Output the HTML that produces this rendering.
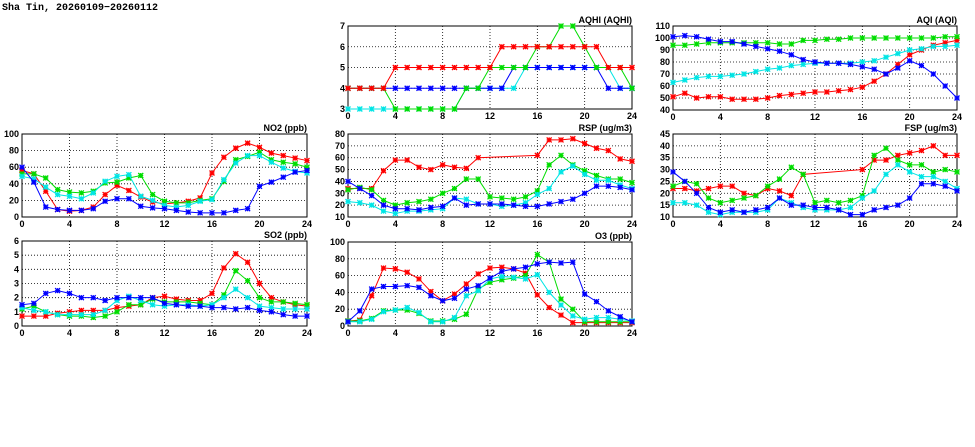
<!DOCTYPE html>
<html><head><meta charset="utf-8">
<style>
html,body{margin:0;padding:0;background:#fff;width:975px;height:447px;overflow:hidden}
svg{display:block}
text{font-family:"Liberation Sans",sans-serif;font-weight:bold;font-size:9px;fill:#000}
</style></head>
<body>
<svg id="c" width="975" height="447">
<text x="2" y="10" style="font-family:'Liberation Mono',monospace;font-size:10px">Sha Tin, 20260109−20260112</text>
</svg>
<script>
const hours=[0,1,2,3,4,5,6,7,8,9,10,11,12,13,14,15,16,17,18,19,20,21,22,23,24];
const xTicks=[0,4,8,12,16,20,24];
const seriesColors=["#ff0000","#00dd00","#00e5e5","#0000ff"];

const aqhiRed=[4,4,4,4,5,5,5,5,5,5,5,5,5,6,6,6,6,6,6,6,6,6,5,5,5];
const aqhiGreen=[4,4,4,4,3,3,3,3,3,3,4,4,5,5,5,5,6,6,7,7,6,5,5,5,4];
const aqhiCyan=[3,3,3,3,3,3,3,3,3,3,4,4,4,4,4,5,5,5,5,5,5,5,5,4,4];
const aqhiBlue=[4,4,4,4,4,4,4,4,4,4,4,4,4,4,5,5,5,5,5,5,5,5,4,4,4];
const aqhiTicks=[3,4,5,6,7];

const aqiRed=[51,54,50,51,51,49,49,49,50,52,53,54,55,55,56,57,59,64,70,78,86,90,94,96,98];
const aqiGreen=[94,94,95,96,96,96,96,96,96,95,95,98,98,99,99,100,100,100,100,100,100,100,100,101,101];
const aqiCyan=[63,65,67,68,68,69,70,72,74,75,77,78,79,79,79,79,80,81,84,87,90,91,93,93,94];
const aqiBlue=[101,102,101,99,97,97,95,93,91,89,86,82,80,79,79,78,76,74,70,75,81,77,70,60,50];
const aqiTicks=[40,50,60,70,80,90,100,110];

const no2Red=[56,52,31,9,7,8,12,27,38,32,24,18,16,17,19,23,53,72,83,89,84,77,74,71,68];
const no2Green=[52,52,47,33,30,29,31,41,42,47,50,27,19,17,17,20,22,43,69,73,78,69,66,64,60];
const no2Cyan=[49,46,36,27,25,22,29,43,49,51,25,20,14,12,14,19,21,45,65,74,74,66,59,55,53];
const no2Blue=[60,42,12,9,8,8,10,19,22,22,13,11,10,8,6,5,5,5,8,10,37,42,48,54,56];
const no2Ticks=[0,20,40,60,80,100];

const rspRed=[34,34,34,49,58,58,52,50,54,52,51,60,null,null,null,null,62,75,75,76,72,68,66,59,57];
const rspGreen=[33,35,33,24,20,22,23,25,30,34,42,42,27,26,25,27,32,54,62,54,49,45,42,42,39];
const rspCyan=[23,22,20,15,13,15,15,16,17,26,25,21,21,19,20,22,29,34,48,53,46,41,41,37,34];
const rspBlue=[40,34,28,20,17,17,16,18,19,26,20,21,21,21,20,19,19,21,23,25,30,36,36,35,33];
const rspTicks=[10,20,30,40,50,60,70,80];

const fspRed=[22,22,21,22,23,23,20,19,22,21,19,28,null,null,null,null,30,34,34,36,37,38,40,36,36];
const fspGreen=[23,25,24,18,16,17,18,19,23,26,31,28,16,17,16,17,19,36,39,34,32,32,29,30,29];
const fspCyan=[16,16,15,12,11,12,12,12,13,18,16,14,13,13,13,14,18,21,28,32,29,27,27,25,22];
const fspBlue=[29,25,20,14,12,13,12,13,14,18,15,15,14,14,13,11,11,13,14,15,18,24,24,23,21];
const fspTicks=[10,15,20,25,30,35,40,45];

const so2Red=[0.7,0.7,0.7,0.9,1.0,1.1,1.1,1.1,1.3,1.4,1.5,2.0,2.1,1.9,1.8,1.8,2.3,4.1,5.1,4.5,3.0,2.0,1.7,1.5,1.4];
const so2Green=[1.2,1.4,1.0,0.8,0.7,0.7,0.6,0.7,1.0,1.5,1.5,1.9,1.7,1.7,1.7,1.6,1.5,2.2,3.9,3.2,2.0,1.7,1.7,1.6,1.5];
const so2Cyan=[1.3,1.1,1.0,0.8,0.8,0.8,0.8,1.1,1.8,2.1,1.8,1.5,1.4,1.5,1.5,1.4,1.5,2.0,2.6,2.0,1.4,1.3,1.2,1.2,1.2];
const so2Blue=[1.5,1.6,2.3,2.5,2.3,2.0,2.0,1.8,2.0,2.0,2.0,2.0,1.6,1.5,1.4,1.4,1.3,1.3,1.2,1.3,1.1,1.0,0.8,0.7,0.7];
const so2Ticks=[0,1,2,3,4,5,6];

const o3Red=[6,7,36,69,68,64,56,41,30,38,50,62,69,70,68,63,37,22,13,4,4,4,4,4,4];
const o3Green=[6,6,9,18,19,19,15,6,6,8,14,44,52,55,57,60,85,76,32,20,5,5,5,5,5];
const o3Cyan=[5,5,8,17,19,22,16,5,5,10,36,42,56,59,58,56,61,40,25,12,8,10,10,8,6];
const o3Blue=[5,18,44,47,47,48,46,36,30,33,44,48,57,65,68,70,74,76,75,76,38,29,18,11,5];
const o3Ticks=[0,20,40,60,80,100];

const NS="http://www.w3.org/2000/svg";
const svg=document.getElementById("c");
function mk(tag,attrs,parent){const e=document.createElementNS(NS,tag);for(const k in attrs)e.setAttribute(k,attrs[k]);(parent||svg).appendChild(e);return e;}

function panel(key,title,box,ticks,series,order){
  const g=mk("g",{});
  
  
  const [L,T,R,B]=box;
  const ymin=ticks[0],ymax=ticks[ticks.length-1];
  const xs=h=>L+(R-L)*h/24;
  const ys=v=>B-(B-T)*(v-ymin)/(ymax-ymin);
  xTicks.forEach(t=>{
    if(t>0&&t<24){const l=mk("line",{x1:xs(t),x2:xs(t),y1:T,y2:B,stroke:"#000","stroke-width":0.8,"stroke-dasharray":"1,2"},g);
      }
    const tx=mk("text",{x:xs(t),y:B+10,"text-anchor":"middle"},g);tx.textContent=t;
    
  });
  ticks.forEach(t=>{
    if(t>ymin&&t<ymax){const l=mk("line",{x1:L,x2:R,y1:ys(t),y2:ys(t),stroke:"#000","stroke-width":0.8,"stroke-dasharray":"1,2"},g);
      }
    const tx=mk("text",{x:L-3,y:ys(t)+3,"text-anchor":"end"},g);tx.textContent=t;
    
  });
  const fr=mk("rect",{x:L,y:T,width:R-L,height:B-T,fill:"none",stroke:"#000","stroke-width":1},g);
  
  const tt=mk("text",{x:R,y:T-3,"text-anchor":"end"},g);tt.textContent=title;
  
  const names=["red","green","cyan","blue"];
  (order||[0,1,2,3]).forEach(si=>{
    const vals=series[si];
    const c=seriesColors[si];
    const pts=[];vals.forEach((v,i)=>{if(v!==null)pts.push([xs(hours[i]),ys(v)]);});
    const pl=mk("polyline",{points:pts.map(p=>p.join(",")).join(" "),fill:"none",stroke:c,"stroke-width":1},g);
    
    
    pts.forEach(p=>{
      const s=2.5,[x,y]=p;
      const m=mk("path",{d:`M${x-s},${y-s}L${x+s},${y+s}M${x-s},${y+s}L${x+s},${y-s}M${x-s},${y}L${x+s},${y}M${x},${y-s}L${x},${y+s}`,stroke:c,"stroke-width":1.3,fill:"none"},g);
      
      
    });
  });
}
panel("aqhi","AQHI (AQHI)",[348,26,632,109],aqhiTicks,[aqhiRed,aqhiGreen,aqhiCyan,aqhiBlue],[2,3,1,0]);
panel("aqi","AQI (AQI)",[673,26,957,110],aqiTicks,[aqiRed,aqiGreen,aqiCyan,aqiBlue]);
panel("no2","NO2 (ppb)",[22,134,307,217],no2Ticks,[no2Red,no2Green,no2Cyan,no2Blue]);
panel("rsp","RSP (ug/m3)",[348,134,632,217],rspTicks,[rspRed,rspGreen,rspCyan,rspBlue]);
panel("fsp","FSP (ug/m3)",[673,134,957,217],fspTicks,[fspRed,fspGreen,fspCyan,fspBlue]);
panel("so2","SO2 (ppb)",[22,241,307,326],so2Ticks,[so2Red,so2Green,so2Cyan,so2Blue]);
panel("o3","O3 (ppb)",[348,242,632,326],o3Ticks,[o3Red,o3Green,o3Cyan,o3Blue]);
</script>
</body></html>
